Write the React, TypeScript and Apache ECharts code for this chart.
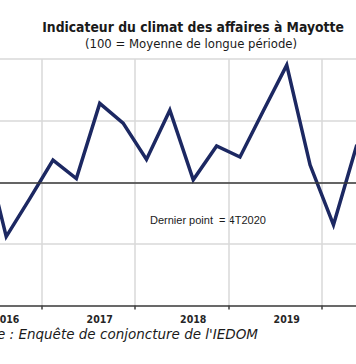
import React, { useEffect, useRef } from "react";
import * as echarts from "echarts";

const quarters: string[] = [
  "2016 T1", "2016 T2", "2016 T3", "2016 T4",
  "2017 T1", "2017 T2", "2017 T3", "2017 T4",
  "2018 T1", "2018 T2", "2018 T3", "2018 T4",
  "2019 T1", "2019 T2", "2019 T3", "2019 T4",
  "2020 T1", "2020 T2", "2020 T3", "2020 T4",
];
const indicator: (number | null)[] = [
  null, 106.7, 91.2, 97.3,
  103.6, 100.6, 112.8, 109.6,
  103.7, 111.7, 100.4, 105.9,
  104.1, 111.6, 119.0, 102.8,
  93.1, 106.1, null, null,
];
const yTicks = { min: 80, max: 120, interval: 10 };
const referenceValue = 100;
const titleText = "Indicateur du climat des affaires à Mayotte";
const subtitleText = "(100 = Moyenne de longue période)";
const noteText = "Dernier point  = 4T2020";
const sourceText = "Source : Enquête de conjoncture de l'IEDOM";

const SHIFT = 100; // the visible window starts 100px into the wider chart

export default function App() {
  const ref = useRef<HTMLDivElement>(null);
  useEffect(() => {
    if (!ref.current) return;
    const chart = echarts.init(ref.current, undefined, { renderer: "svg" });
    const cond = "'DejaVu Sans Condensed', 'DejaVu Sans', sans-serif";
    chart.setOption({
      animation: false,
      backgroundColor: "#ffffff",
      grid: { left: 47.8, right: 84.7, top: 59, bottom: 58.4 },
      xAxis: {
        type: "category",
        data: quarters,
        boundaryGap: true,
        axisLine: { show: true, lineStyle: { color: "#404040", width: 1.5 } },
        axisTick: { show: true, interval: 3, length: 4, lineStyle: { color: "#404040", width: 1.5 } },
        splitLine: { show: true, interval: 3, lineStyle: { color: "#d9d9d9", width: 1.5 } },
        axisLabel: {
          interval: (i: number) => i % 4 === 2,
          formatter: (v: string) => v.slice(0, 4),
          margin: 8,
          color: "#262626",
          fontFamily: cond,
          fontWeight: "bold",
          fontSize: 10.5,
          lineHeight: 11,
        },
      },
      yAxis: {
        type: "value",
        min: yTicks.min,
        max: yTicks.max,
        interval: yTicks.interval,
        axisLine: { show: false },
        axisTick: { show: false },
        axisLabel: { show: false },
        splitLine: { show: true, lineStyle: { color: "#d9d9d9", width: 1.5 } },
      },
      series: [
        {
          type: "line",
          data: indicator,
          symbol: "none",
          connectNulls: false,
          lineStyle: { color: "#1c2862", width: 3.5, join: "miter" },
          markLine: {
            silent: true,
            symbol: ["none", "none"],
            label: { show: false },
            lineStyle: { color: "#3a3a3a", width: 1.5, type: "solid" },
            data: [{ yAxis: referenceValue }],
          },
        },
      ],
      graphic: [
        {
          type: "text",
          x: 193 + SHIFT,
          y: 27,
          style: {
            text: titleText,
            font: "bold 13.8px " + cond,
            fill: "#1a1a1a",
            textAlign: "center",
            textVerticalAlign: "middle",
          },
        },
        {
          type: "text",
          x: 191 + SHIFT,
          y: 43.5,
          style: {
            text: subtitleText,
            font: "13px " + cond,
            fill: "#1a1a1a",
            textAlign: "center",
            textVerticalAlign: "middle",
          },
        },
        {
          type: "text",
          x: 150 + SHIFT,
          y: 220,
          style: {
            text: noteText,
            font: "11px 'Liberation Sans', Arial, sans-serif",
            fill: "#1a1a1a",
            textAlign: "left",
            textVerticalAlign: "middle",
          },
        },
        {
          type: "text",
          x: 258 + SHIFT,
          y: 334,
          style: {
            text: sourceText,
            font: "italic 13.5px 'DejaVu Sans', sans-serif",
            fill: "#1a1a1a",
            textAlign: "right",
            textVerticalAlign: "middle",
          },
        },
      ],
    });
    return () => chart.dispose();
  }, []);
  return (
    <div
      style={{
        position: "fixed",
        left: 0,
        top: 0,
        width: 356,
        height: 364,
        overflow: "hidden",
        background: "#ffffff",
      }}
    >
      <div
        ref={ref}
        style={{ position: "absolute", left: -SHIFT, top: 0, width: 600, height: 364 }}
      />
    </div>
  );
}
